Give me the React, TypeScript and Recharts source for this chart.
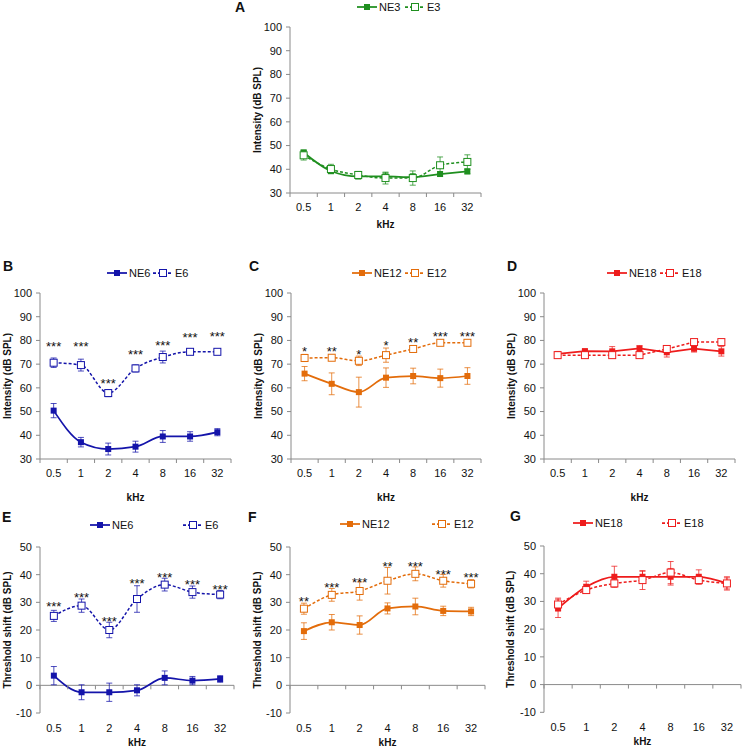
import React from 'react';
import { LineChart, Line, XAxis, YAxis, ErrorBar, ReferenceLine, LabelList } from 'recharts';

const freqs = ['0.5', '1', '2', '4', '8', '16', '32'];
const freqIdx = [0, 1, 2, 3, 4, 5, 6];
const intensityTicks = [30, 40, 50, 60, 70, 80, 90, 100];
const shiftTicks = [-10, 0, 10, 20, 30, 40, 50];

// A: 3 days
const ne3 = [47.1, 39.3, 37.0, 37.0, 36.7, 38.0, 39.1];
const ne3Err = [1, 1, 1, 1.5, 1.5, 1, 1];
const e3 = [45.9, 40.1, 37.6, 36.3, 36.3, 41.7, 43.1];
const e3Err = [2, 2, 1.5, 2.5, 3, 3.5, 3];

// B: 6 months, intensity
const ne6 = [50.4, 37.1, 34.2, 35.2, 39.5, 39.5, 41.3];
const ne6Err = [3, 2, 2.5, 2.3, 2.5, 2, 1.5];
const e6 = [70.6, 69.6, 57.8, 68.2, 73.0, 75.2, 75.2];
const e6Err = [2, 2.5, 1.5, 1.5, 2.5, 0.7, 0.7];
const sigB = ['***', '***', '***', '***', '***', '***', '***'];
const sigBY = [78.8, 78.8, 63.1, 75.5, 79.1, 82.6, 83.0];

// C: 12 months, intensity
const ne12 = [66.0, 61.7, 58.2, 64.3, 65.0, 64.1, 65.0];
const ne12Err = [3, 4.6, 6.3, 4.1, 3.3, 3.8, 3.5];
const e12 = [72.6, 72.7, 71.4, 73.8, 76.4, 79.0, 79.0];
const e12Err = [1.5, 1.2, 2, 3, 1.2, 0.7, 1];
const sigC = ['*', '**', '*', '*', '**', '***', '***'];
const sigCY = [76.4, 76.4, 75.4, 79.3, 80.6, 83.1, 83.1];

// D: 18 months, intensity
const ne18 = [74.3, 75.5, 75.4, 76.6, 75.0, 76.5, 75.4];
const ne18Err = [0.6, 0.7, 2, 1.2, 2, 1.4, 2];
const e18 = [73.8, 73.8, 73.8, 73.8, 76.4, 79.3, 79.3];
const e18Err = [0.7, 0.7, 0.7, 0.7, 1, 1, 1];

// E: 6 months, threshold shift
const ne6s = [3.5, -2.5, -2.5, -1.8, 2.7, 1.7, 2.3];
const ne6sErr = [3.3, 2.7, 3.3, 2, 2.5, 1.5, 1.2];
const e6s = [25.1, 28.8, 20.0, 31.2, 36.4, 33.7, 32.8];
const e6sErr = [2, 2.4, 2.8, 4.8, 2.3, 2.2, 1.5];
const sigE = ['***', '***', '***', '***', '***', '***', '***'];
const sigEY = [29.5, 32.8, 24.3, 38.0, 40.1, 37.7, 35.8];

// F: 12 months, threshold shift
const ne12s = [19.6, 22.8, 21.8, 27.8, 28.5, 26.9, 26.7];
const ne12sErr = [3, 2.8, 3.3, 2, 3, 1.7, 1.5];
const e12s = [27.7, 32.7, 34.1, 37.8, 40.3, 37.8, 36.7];
const e12sErr = [2, 2.3, 3.3, 4.8, 2.5, 2.3, 1.5];
const sigF = ['**', '***', '***', '**', '***', '***', '***'];
const sigFY = [31.4, 36.4, 38.4, 44.2, 44.0, 41.1, 40.0];

// G: 18 months, threshold shift
const ne18s = [27.5, 35.3, 38.9, 38.9, 38.9, 38.9, 36.5];
const ne18sErr = [3.3, 2, 3.8, 2, 3, 2.5, 2];
const e18s = [28.9, 34.1, 36.5, 37.7, 40.4, 37.7, 36.5];
const e18sErr = [2.3, 1, 1.2, 3.4, 4, 1.5, 2.4];

const FONT = "'Liberation Sans', Arial, sans-serif";
const AXIS = '#8a8a8a';
const GREEN = '#1f8f1f';
const BLUE = '#1414aa';
const ORANGE = '#e36c0a';
const RED = '#ee1c1c';

const YW = 44;
const MT = 10;
const MR = 6;
const XH = 46;

const XTick = (props: any) => {
  const { x, payload, bw, axisY, labelY } = props;
  const i = payload.value;
  return (
    <g>
      <line x1={x - bw / 2} x2={x - bw / 2} y1={axisY} y2={axisY + 4} stroke={AXIS} />
      {i === 6 && <line x1={x + bw / 2} x2={x + bw / 2} y1={axisY} y2={axisY + 4} stroke={AXIS} />}
      <text x={x} y={labelY} textAnchor="middle" dominantBaseline="central" fontSize={11} fill="#111" fontFamily={FONT}>
        {freqs[i]}
      </text>
    </g>
  );
};

const YTitle = (props: any) => (
  <text
    x={props.tx}
    y={props.ty}
    transform={`rotate(-90, ${props.tx}, ${props.ty})`}
    textAnchor="middle"
    dominantBaseline="central"
    fontSize={10}
    fontWeight="bold"
    fontFamily={FONT}
    fill="#111"
  >
    {props.text}
  </text>
);

const KhzLabel = (props: any) => (
  <text x={props.tx} y={props.ty} textAnchor="middle" dominantBaseline="central" fontSize={10} fontWeight="bold" fontFamily={FONT} fill="#111">
    kHz
  </text>
);

const StarLabel = (props: any) => {
  const { x, y, value } = props;
  if (!value) return null;
  return (
    <text x={x} y={y + 7.5} textAnchor="middle" fontSize={13} fontFamily={FONT} fill="#111">
      {value}
    </text>
  );
};

type Cfg = {
  letter: string;
  letterPos: [number, number];
  x0: number; x1: number; y0: number; y1: number;
  shift: boolean;
  color: string;
  names: [string, string];
  ne: number[]; neErr: number[]; e: number[]; eErr: number[];
  sig?: string[]; sigY?: number[];
  curve: 'monotone' | 'linear';
  legendY: number;
  legendX: [number, number];
  tickGap: number;
  khzGap: number;
};

const LegendItem = ({ x, y, color, dashed, name }: any) => (
  <div style={{ position: 'absolute', left: x, top: y - 7, height: 14, display: 'flex', alignItems: 'center', whiteSpace: 'nowrap' }}>
    <svg width={20} height={10}>
      <line x1={0} x2={20} y1={5} y2={5} stroke={color} strokeWidth={1.75} strokeDasharray={dashed ? '3 2' : undefined} />
      {dashed ? (
        <rect x={6.5} y={1.5} width={7} height={7} fill="#fff" stroke={color} strokeWidth={1} />
      ) : (
        <rect x={7} y={2} width={6} height={6} fill={color} />
      )}
    </svg>
    <span style={{ marginLeft: 2, fontSize: 11, fontFamily: FONT, color: '#111' }}>{name}</span>
  </div>
);

const Panel = ({ c }: { c: Cfg }) => {
  const yMin = c.shift ? -10 : 30;
  const yMax = c.shift ? 50 : 100;
  const cl = c.x0 - YW;
  const ct = c.y0 - MT;
  const cw = c.x1 - cl + MR;
  const ch = c.y1 - ct + XH;
  const ph = c.y1 - c.y0;
  const bw = (c.x1 - c.x0) / 7;
  const plotBottom = MT + ph;
  const zeroY = MT + (yMax / (yMax - yMin)) * ph;
  const axisY = c.shift ? zeroY : plotBottom;
  const rows = freqIdx.map((i) => ({
    i,
    ne: c.ne[i],
    neErr: c.neErr[i],
    e: c.e[i],
    eErr: c.eErr[i],
    sigY: c.sigY ? c.sigY[i] : null,
    sig: c.sig ? c.sig[i] : '',
  }));
  const color = c.color;
  return (
    <>
      <div style={{ position: 'absolute', left: c.letterPos[0], top: c.letterPos[1] - 9, fontSize: 14, fontWeight: 'bold', fontFamily: FONT, color: '#111' }}>
        {c.letter}
      </div>
      <LegendItem x={c.legendX[0]} y={c.legendY} color={color} name={c.names[0]} />
      <LegendItem x={c.legendX[1]} y={c.legendY} color={color} name={c.names[1]} dashed />
      <div style={{ position: 'absolute', left: cl, top: ct }}>
        <LineChart width={cw} height={ch} data={rows} margin={{ top: MT, right: MR, bottom: 0, left: 0 }}>
          <XAxis
            type="number"
            dataKey="i"
            domain={[-0.5, 6.5]}
            ticks={freqIdx}
            interval={0}
            allowDataOverflow
            height={XH}
            axisLine={c.shift ? false : { stroke: AXIS }}
            tickLine={false}
            tick={<XTick bw={bw} axisY={axisY} labelY={plotBottom + c.tickGap} />}
            label={<KhzLabel tx={YW + (c.x1 - c.x0) / 2} ty={plotBottom + c.khzGap} />}
          />
          <YAxis
            type="number"
            domain={[yMin, yMax]}
            ticks={c.shift ? shiftTicks : intensityTicks}
            interval={0}
            allowDataOverflow
            width={YW}
            tickSize={4}
            tickMargin={4}
            axisLine={{ stroke: AXIS }}
            tickLine={{ stroke: AXIS }}
            tick={{ fontSize: 11, fill: '#111', fontFamily: FONT }}
            label={<YTitle tx={YW - 33} ty={MT + ph / 2} text={c.shift ? 'Threshold shift (dB SPL)' : 'Intensity (dB SPL)'} />}
          />
          {c.shift && <ReferenceLine y={0} stroke={AXIS} />}
          <Line
            type={c.curve}
            dataKey="ne"
            stroke={color}
            strokeWidth={1.75}
            isAnimationActive={false}
            activeDot={false}
            dot={(p: any) => <rect key={`n${p.index}`} x={p.cx - 3} y={p.cy - 3} width={6} height={6} fill={color} />}
          >
            <ErrorBar dataKey="neErr" direction="y" width={3} stroke={color} strokeWidth={1} strokeOpacity={0.75} isAnimationActive={false} />
          </Line>
          <Line
            type={c.curve}
            dataKey="e"
            stroke={color}
            strokeWidth={1.5}
            strokeDasharray="3 2"
            isAnimationActive={false}
            activeDot={false}
            dot={(p: any) => (
              <rect key={`e${p.index}`} x={p.cx - 3.5} y={p.cy - 3.5} width={7} height={7} fill="#fff" stroke={color} strokeWidth={1} />
            )}
          >
            <ErrorBar dataKey="eErr" direction="y" width={3} stroke={color} strokeWidth={1} strokeOpacity={0.75} isAnimationActive={false} />
          </Line>
          {c.sig && (
            <Line dataKey="sigY" stroke="none" dot={false} activeDot={false} isAnimationActive={false}>
              <LabelList dataKey="sig" content={<StarLabel />} />
            </Line>
          )}
        </LineChart>
      </div>
    </>
  );
};

const panels: Cfg[] = [
  {
    letter: 'A', letterPos: [235, 8], x0: 290, x1: 481, y0: 27.3, y1: 193.3, shift: false, color: GREEN,
    names: ['NE3', 'E3'], ne: ne3, neErr: ne3Err, e: e3, eErr: e3Err, curve: 'monotone',
    legendY: 7, legendX: [357, 405], tickGap: 14, khzGap: 31,
  },
  {
    letter: 'B', letterPos: [3, 267], x0: 40, x1: 231, y0: 293.3, y1: 459.3, shift: false, color: BLUE,
    names: ['NE6', 'E6'], ne: ne6, neErr: ne6Err, e: e6, eErr: e6Err, sig: sigB, sigY: sigBY, curve: 'monotone',
    legendY: 273, legendX: [107, 153], tickGap: 14, khzGap: 38,
  },
  {
    letter: 'C', letterPos: [249, 267], x0: 291, x1: 481, y0: 293.3, y1: 459.3, shift: false, color: ORANGE,
    names: ['NE12', 'E12'], ne: ne12, neErr: ne12Err, e: e12, eErr: e12Err, sig: sigC, sigY: sigCY, curve: 'monotone',
    legendY: 273, legendX: [352, 405], tickGap: 14, khzGap: 38,
  },
  {
    letter: 'D', letterPos: [507, 267], x0: 544, x1: 735, y0: 293.3, y1: 459.3, shift: false, color: RED,
    names: ['NE18', 'E18'], ne: ne18, neErr: ne18Err, e: e18, eErr: e18Err, curve: 'linear',
    legendY: 273, legendX: [607, 660], tickGap: 14, khzGap: 38,
  },
  {
    letter: 'E', letterPos: [2, 518], x0: 40, x1: 234, y0: 547.3, y1: 713.3, shift: true, color: BLUE,
    names: ['NE6', 'E6'], ne: ne6s, neErr: ne6sErr, e: e6s, eErr: e6sErr, sig: sigE, sigY: sigEY, curve: 'monotone',
    legendY: 525, legendX: [90, 183], tickGap: 15, khzGap: 29,
  },
  {
    letter: 'F', letterPos: [248, 518], x0: 290, x1: 485, y0: 547.3, y1: 713.3, shift: true, color: ORANGE,
    names: ['NE12', 'E12'], ne: ne12s, neErr: ne12sErr, e: e12s, eErr: e12sErr, sig: sigF, sigY: sigFY, curve: 'monotone',
    legendY: 524, legendX: [340, 432], tickGap: 15, khzGap: 29,
  },
  {
    letter: 'G', letterPos: [510, 517], x0: 544, x1: 741, y0: 546, y1: 712.3, shift: true, color: RED,
    names: ['NE18', 'E18'], ne: ne18s, neErr: ne18sErr, e: e18s, eErr: e18sErr, curve: 'monotone',
    legendY: 523, legendX: [573, 662], tickGap: 15, khzGap: 29,
  },
];

export default function App() {
  return (
    <div style={{ position: 'absolute', left: 0, top: 0, width: 744, height: 748, background: '#fff', overflow: 'hidden' }}>
      {panels.map((c) => (
        <Panel key={c.letter} c={c} />
      ))}
    </div>
  );
}
